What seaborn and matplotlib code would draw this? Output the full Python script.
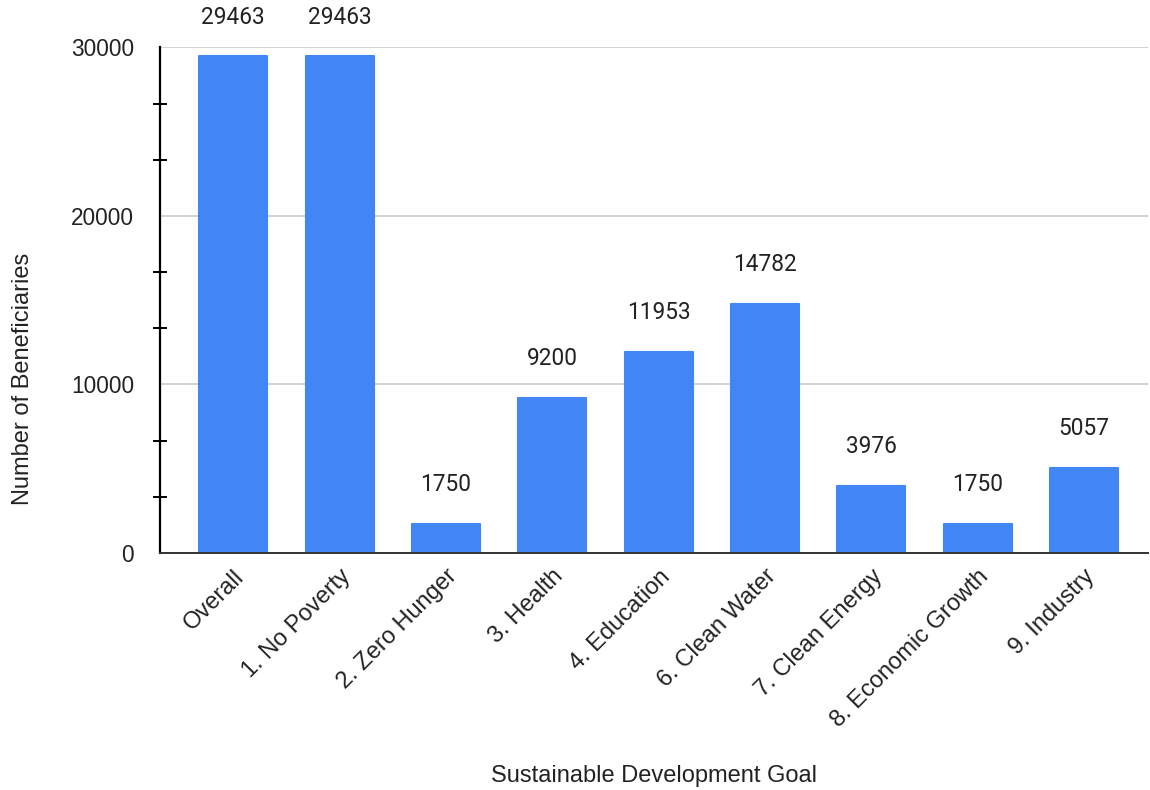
import matplotlib
matplotlib.use("Agg")
import matplotlib.pyplot as plt
import seaborn as sns
import pandas as pd
from matplotlib.ticker import MultipleLocator, FixedLocator

goals = ["Overall", "1. No Poverty", "2. Zero Hunger", "3. Health", "4. Education",
         "6. Clean Water", "7. Clean Energy", "8. Economic Growth", "9. Industry"]
beneficiaries = [29463, 29463, 1750, 9200, 11953, 14782, 3976, 1750, 5057]
y_ticks = [0, 10000, 20000, 30000]

df = pd.DataFrame({"goal": goals, "count": beneficiaries})

sns.set_theme(style="white")
plt.rcParams["font.family"] = ["Liberation Sans", "DejaVu Sans"]
TEXT = "#222222"

fig, ax = plt.subplots(figsize=(11.5, 7.9), dpi=100)
fig.subplots_adjust(left=0.139, right=0.998, top=0.94, bottom=0.30)

sns.barplot(data=df, x="goal", y="count", color="#4285F4", saturation=1,
            width=0.64, ax=ax, zorder=3)
for p in ax.patches:
    p.set_edgecolor("#4285F4")
    p.set_linewidth(1.5)
    p.set_joinstyle("round")

ax.set_ylim(0, 30000)
ax.set_xlim(-0.69, 8.6)
ax.yaxis.set_major_locator(FixedLocator(y_ticks))
ax.yaxis.set_minor_locator(MultipleLocator(10000 / 3))
ax.grid(axis="y", which="major", color="#cccccc", linewidth=1.2, zorder=0)
ax.grid(axis="x", visible=False)

for side in ["top", "right"]:
    ax.spines[side].set_visible(False)
ax.spines["left"].set_color("black")
ax.spines["left"].set_linewidth(1.6)
ax.spines["bottom"].set_color("#333333")
ax.spines["bottom"].set_linewidth(1.4)
ax.spines["left"].set_zorder(4)
ax.spines["bottom"].set_zorder(4)

ax.tick_params(axis="y", which="both", left=True)
ax.tick_params(axis="y", which="major", length=0, labelsize=16.3, pad=18.5, labelcolor=TEXT)
ax.tick_params(axis="y", which="minor", direction="inout", length=10, width=1.4, color="black")
ax.tick_params(axis="x", length=0, labelsize=17, pad=9, labelcolor=TEXT)
plt.setp(ax.get_xticklabels(), rotation=45, ha="right", rotation_mode="anchor")

for i, v in enumerate(beneficiaries):
    ax.annotate(f"{v}", xy=(i, v), xytext=(0, 20), textcoords="offset points",
                ha="center", va="bottom", fontsize=16.3, color=TEXT,
                family=["Roboto", "DejaVu Sans"], annotation_clip=False)

ax.set_xlabel("Sustainable Development Goal", fontsize=17, color=TEXT, labelpad=24)
ax.set_ylabel("Number of Beneficiaries", fontsize=17, color=TEXT, labelpad=27)
ax.yaxis.label.set_y(0.345)

fig.savefig("out.png", dpi=100)
